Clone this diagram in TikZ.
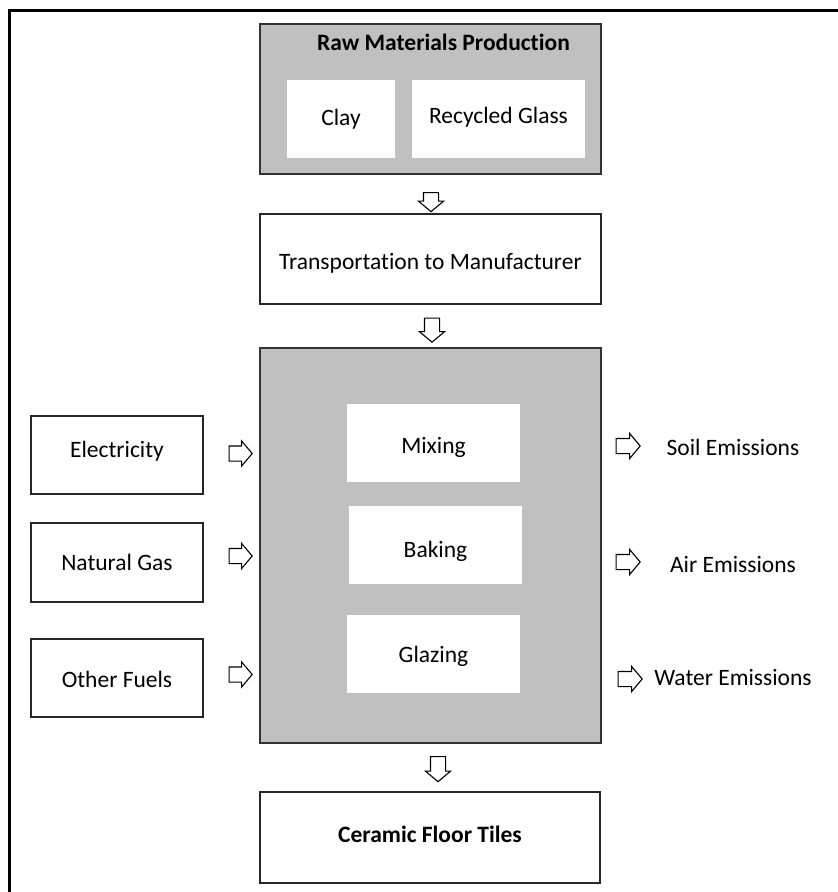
\documentclass[tikz,border=0pt]{standalone}
\usepackage{fontspec}
\setmainfont{Carlito}[Ligatures=NoCommon]
\usetikzlibrary{shapes.arrows}
\definecolor{panelgray}{HTML}{C0C0C0}
\begin{document}
\begin{tikzpicture}[x=1pt,y=-1pt,
  every node/.style={font=\fontsize{23.5}{28}\selectfont, inner sep=0},
  % vertical placement of a label: caps sit (#1/2 - 7.5)pt below the node centre
  lift/.style={text height=#1, text depth=0pt},
  lift/.default=15pt,
  framebox/.style={rectangle, draw=black!85, line width=1.6, fill=white},
  panel/.style={rectangle, draw=black!80, line width=1.6, fill=panelgray},
  inbox/.style={rectangle, fill=white},
  flow/.style={single arrow, draw=black, line width=1.1, fill=white,
    inner xsep=0, inner ysep=7, single arrow head extend=5,
    single arrow tip angle=100},
  flowdown/.style={flow, rotate=-90}
]
\useasboundingbox (0,0) rectangle (838,892);

% outer frame (top and left edges)
\draw[line width=3] (9.5,892) -- (9.5,10.5) -- (838,10.5);

% raw materials
\node[panel, minimum width=341, minimum height=150] (raw) at (430.5,99) {};
\node[lift, font=\fontsize{23.5}{28}\selectfont\bfseries] (rawtitle) at (443.5,42.5) {Raw Materials Production};
\node[inbox, lift=12pt, minimum width=108, minimum height=78] (clay) at (341,119) {Clay};
\node[inbox, lift=9pt, minimum width=173, minimum height=78] (glass) at (498.5,119) {Recycled Glass};

\node[flowdown, minimum height=19] (a1) at (431,199) {};

% transport
\node[framebox, lift=20pt, minimum width=341, minimum height=90] (transport) at (430.5,259) {Transportation to Manufacturer};

\node[flowdown, minimum height=24] (a2) at (432,327) {};

% manufacturing
\node[panel, minimum width=341, minimum height=395] (process) at (430.5,545.5) {};
\node[inbox, lift=21pt, minimum width=173, minimum height=78] (mixing) at (433.5,443) {Mixing};
\node[inbox, lift=25pt, minimum width=173, minimum height=78] (baking) at (435.5,545) {Baking};
\node[inbox, lift=17pt, minimum width=173, minimum height=78] (glazing) at (433.5,654) {Glazing};

% energy inputs
\node[framebox, lift=5pt, minimum width=172, minimum height=78] (elec) at (117,455) {Electricity};
\node[framebox, lift=16pt, minimum width=172, minimum height=79] (gas) at (117,562.5) {Natural Gas};
\node[framebox, lift=19pt, minimum width=172, minimum height=78] (fuels) at (117,678) {Other Fuels};

\node[flow, minimum height=23] (in1) at (237.5,453.5) {};
\node[flow, minimum height=23] (in2) at (237.5,556) {};
\node[flow, minimum height=23] (in3) at (237.5,674.5) {};

% emissions
\node[flow, minimum height=24] (out1) at (625,446) {};
\node[flow, minimum height=24] (out2) at (625,562) {};
\node[flow, minimum height=24] (out3) at (627,679) {};
\node[lift] (soil) at (733,447.5) {Soil Emissions};
\node[lift] (air) at (733,564.5) {Air Emissions};
\node[lift] (water) at (733,677.5) {Water Emissions};

\node[flowdown, minimum height=25] (a3) at (438,766) {};

% product
\node[framebox, lift=9pt, minimum width=340, minimum height=91, font=\fontsize{23.5}{28}\selectfont\bfseries] (tiles) at (430,837.5) {Ceramic Floor Tiles};
\end{tikzpicture}
\end{document}
